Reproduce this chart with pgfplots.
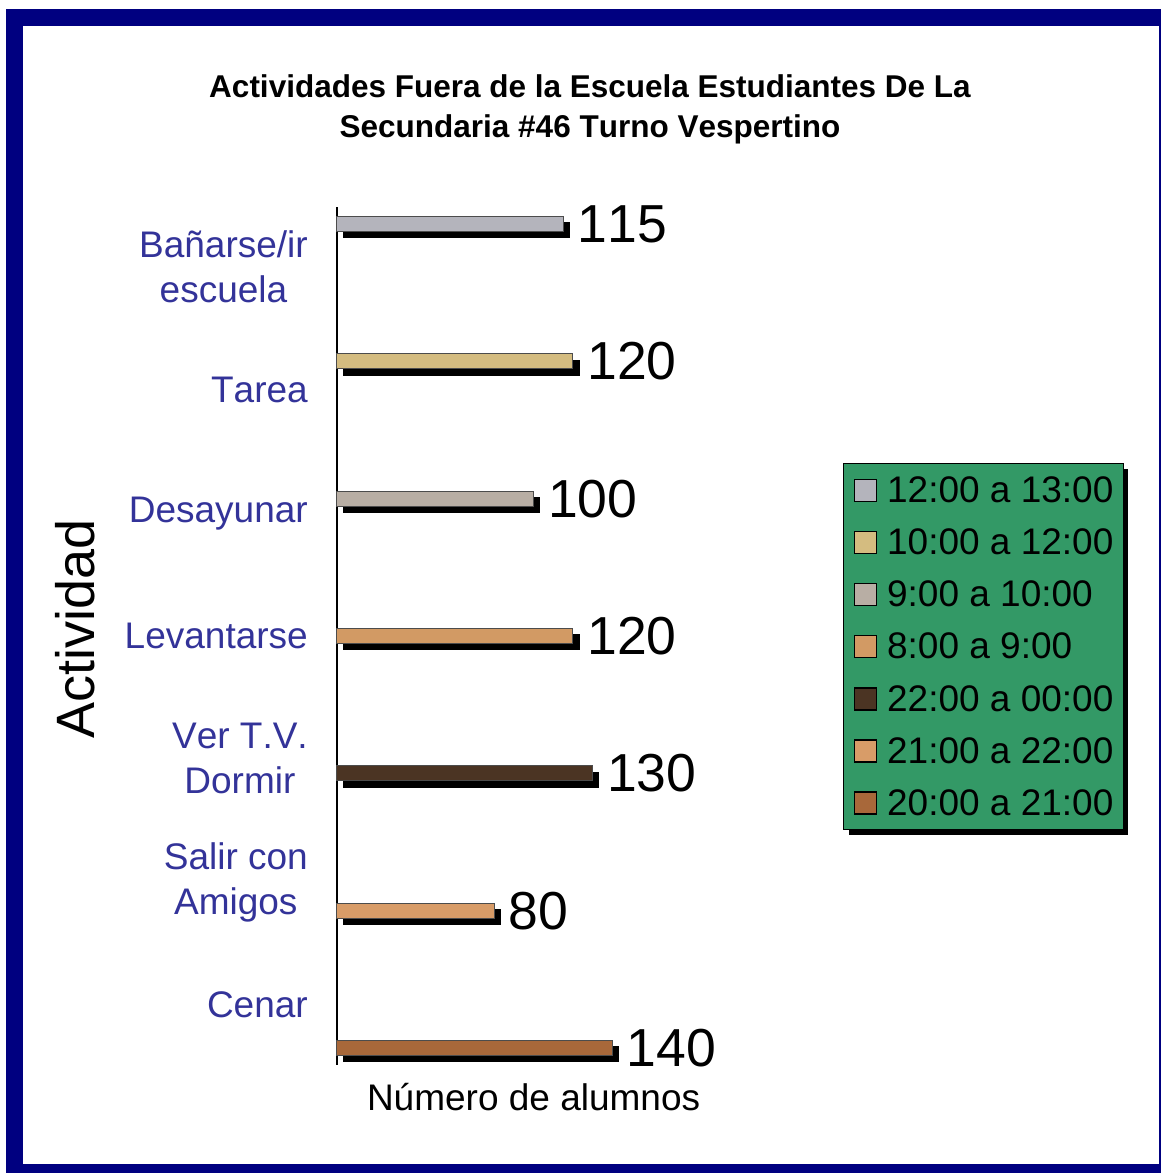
\documentclass[border=0pt]{standalone}
\usepackage{fontspec}
\setmainfont[Kerning=Off]{Liberation Sans}
\usepackage{pgfplots}
\pgfplotsset{compat=1.18}
\usetikzlibrary{shadows}
\definecolor{navyb}{HTML}{000080}
\definecolor{lblue}{HTML}{333399}
\definecolor{lgreen}{HTML}{339966}
\definecolor{cA}{HTML}{B4B4BC}
\definecolor{cB}{HTML}{D4BC80}
\definecolor{cC}{HTML}{B8AEA4}
\definecolor{cD}{HTML}{D29A64}
\definecolor{cE}{HTML}{4B3423}
\definecolor{cF}{HTML}{D89C68}
\definecolor{cG}{HTML}{A8683A}
\begin{document}
\begin{tikzpicture}
\useasboundingbox (0,0) rectangle (1161pt,-1173pt);
\fill[white] (0,0) rectangle (1161pt,-1173pt);
\fill[navyb] (6pt,-9pt) rectangle (1161pt,-1173pt);
\fill[white] (23pt,-26pt) rectangle (1159pt,-1164pt);
\begin{axis}[
  at={(337pt,-1065pt)}, anchor=south west,
  scale only axis, width=393.2pt, height=858pt,
  xbar, bar width=15pt, bar shift=0pt,
  xmin=0, xmax=200, ymin=-0.124, ymax=6.124, y dir=reverse,
  clip=false,
  axis lines*=left,
  x axis line style={draw=none},
  y axis line style={line width=1.5pt, -},
  xtick=\empty,
  ytick={0.313,1.209,2.112,3.0,3.892,4.795,5.687},
  yticklabels={{Bañarse/ir\\escuela},Tarea,Desayunar,Levantarse,{Ver T.V.\\Dormir},{Salir con\\Amigos},Cenar},
  major tick length=0pt,
  yticklabel style={align=center, font=\fontsize{37}{45}\selectfont, text=lblue, inner sep=0pt, xshift=-29pt},
  /pgf/number format/assume math mode=true,
  title={Actividades Fuera de la Escuela Estudiantes De La\\Secundaria \#46 Turno Vespertino},
  title style={align=center, font=\fontsize{31.5}{40}\selectfont\bfseries, at={(axis description cs:0.6435,1.147)}, anchor=north, inner sep=0pt},
  xlabel={Número de alumnos},
  xlabel style={at={(axis description cs:0.5,0)}, anchor=base, yshift=-45pt, font=\fontsize{37}{44}\selectfont, inner sep=0pt},
  ylabel={Actividad},
  ylabel style={at={(axis description cs:-0.6155,0.508)}, anchor=base, font=\fontsize{54}{60}\selectfont, inner sep=0pt},
  legend cell align=left,
  legend style={at={(axis description cs:1.2869,0.7016)}, anchor=north west,
    fill=lgreen, draw=black, line width=1.2pt,
    font=\fontsize{37}{44}\selectfont,
    inner xsep=10pt, inner ysep=13pt, row sep=24.8pt, column sep=10pt,
    nodes={inner sep=0pt},
    drop shadow={shadow xshift=5pt, shadow yshift=-5pt, opacity=1, fill=black}},
  shadowbar/.style={forget plot, fill=black, draw=black, xshift=6pt, yshift=-6pt},
  facebar/.style={fill=#1, draw=black!70, line width=1pt,
    legend image code/.code={%
      \pgfsetfillcolor{#1}\pgfsetstrokecolor{black}\pgfsetlinewidth{1.5pt}%
      \pgfpathrectangle{\pgfpoint{0pt}{-11pt}}{\pgfpoint{22pt}{22pt}}%
      \pgfusepath{fill,stroke}},
    nodes near coords, point meta=x,
    every node near coord/.append style={font=\fontsize{53.5}{60}\selectfont, anchor=west, inner sep=0pt, xshift=14pt, text=black}},
]
\addplot[shadowbar] coordinates {(115,0)};
\addplot[shadowbar] coordinates {(120,1)};
\addplot[shadowbar] coordinates {(100,2)};
\addplot[shadowbar] coordinates {(120,3)};
\addplot[shadowbar] coordinates {(130,4)};
\addplot[shadowbar] coordinates {(80,5)};
\addplot[shadowbar] coordinates {(140,6)};
\addplot[facebar=cA] coordinates {(115,0)};
\addlegendentry{12:00 a 13:00}
\addplot[facebar=cB] coordinates {(120,1)};
\addlegendentry{10:00 a 12:00}
\addplot[facebar=cC] coordinates {(100,2)};
\addlegendentry{9:00 a 10:00}
\addplot[facebar=cD] coordinates {(120,3)};
\addlegendentry{8:00 a 9:00}
\addplot[facebar=cE] coordinates {(130,4)};
\addlegendentry{22:00 a 00:00}
\addplot[facebar=cF] coordinates {(80,5)};
\addlegendentry{21:00 a 22:00}
\addplot[facebar=cG] coordinates {(140,6)};
\addlegendentry{20:00 a 21:00}
\end{axis}
\end{tikzpicture}
\end{document}
